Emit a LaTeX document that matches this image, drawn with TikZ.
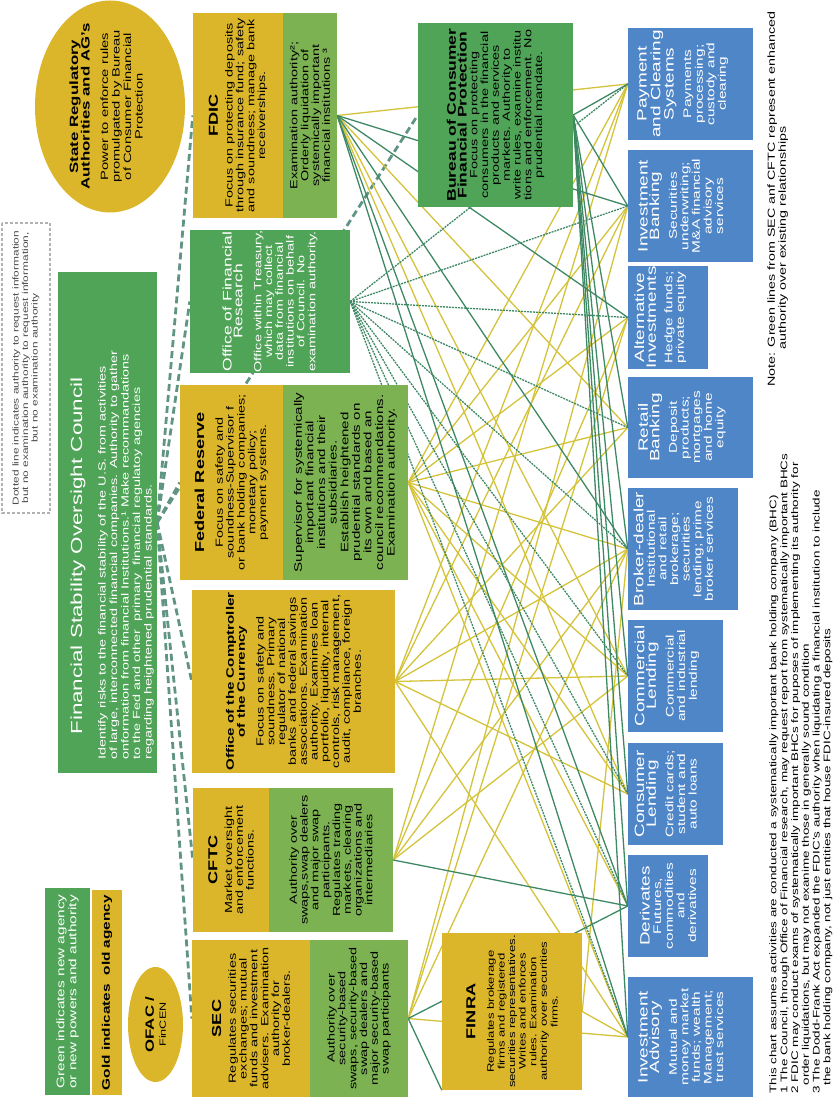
\documentclass[tikz,border=0pt]{standalone}
\usepackage{fontspec}
\setmainfont{Liberation Sans}[FakeStretch=1.4]
\usetikzlibrary{shapes,arrows,positioning,calc,backgrounds}

\definecolor{agencygold}{RGB}{219,182,43}
\definecolor{newgreen}{RGB}{124,178,82}
\definecolor{councilgreen}{RGB}{80,164,88}
\definecolor{marketblue}{RGB}{79,134,200}
\definecolor{oldline}{RGB}{212,195,58}
\definecolor{newline}{RGB}{62,136,100}
\definecolor{councilline}{RGB}{96,148,132}

\newcommand{\agencyhead}[1]{{\bfseries\fontsize{13}{14}\selectfont #1}}
\newcommand{\markethead}[1]{{\fontsize{13.5}{15}\selectfont #1}}

\tikzset{
  agency/.style={fill=agencygold, align=center, inner sep=1pt, font=\fontsize{10.3}{10.8}\selectfont},
  newpower/.style={agency, fill=newgreen},
  newagency/.style={agency, fill=councilgreen},
  market/.style={fill=marketblue, text=white, align=center, inner sep=1pt, font=\fontsize{11}{11.6}\selectfont},
  oldlink/.style={draw=oldline, line width=1.3pt},
  newlink/.style={draw=newline, line width=1.3pt},
  infolink/.style={draw=newline, line width=1.3pt, dash pattern=on 2pt off 1pt},
  councillink/.style={draw=councilline, line width=2.8pt, dash pattern=on 7pt off 4pt}
}

\begin{document}
\begin{tikzpicture}[x=1pt,y=1pt]
\useasboundingbox (0,0) rectangle (836,1101);
\begin{scope}[rotate=90, transform shape]

% Council
\node[newagency, minimum width=501pt, minimum height=99pt] (fsoc) at (578.5,-107.5) {};
\node[text=white, font=\fontsize{16}{18}\selectfont] (fsoctitle) at (545,-78) {Financial Stability Oversight Council};
\node[text=white, align=left, anchor=west, font=\fontsize{10.3}{11.5}\selectfont] (fsocbody) at (338,-126) {Identify risks to the financial stability of the U.S. from activities\\ of large, interconnected financial companies. Authority to gather\\ onformation from financial Institutions.¹ Make recommandations\\ to the Fed and other \ primary \ financial regulatoy agencies\\ regarding heightened prudential standards.};

% Dotted line note
\node[draw=gray!60, line width=2pt, dash pattern=on 3pt off 2pt, text=black!70, align=center, font=\fontsize{8.5}{9.5}\selectfont, minimum width=290pt, minimum height=48pt] (dottednote) at (733,-26) {Dotted line indicates authority to request information\\ but no examination authority to request information,\\ but no examination authority};

% State authorities
\node[fill=agencygold, ellipse, minimum width=212pt, minimum height=150pt, inner sep=0pt] (statereg) at (994.5,-110) {};
\node[align=center, font=\fontsize{10.5}{11.5}\selectfont] (statetext) at (994.5,-106) {{\bfseries\fontsize{12}{12.5}\selectfont State Regulatory}\\ {\bfseries\fontsize{12}{12.5}\selectfont Authorities and AG's}\\[7pt] Power to enforce rules\\ promulgated by Bureau\\ of Consumer Financial\\ Protection};

% Legend
\node[newagency, text=white, align=left, font=\fontsize{11}{12}\selectfont, minimum width=207pt, minimum height=45pt] (legendnew) at (109.5,-67.5) {Green indicates new agency\\ or new powers and authority};
\node[agency, font=\bfseries\fontsize{11}{12}\selectfont, minimum width=205pt, minimum height=30pt] (legendold) at (108.5,-107) {Gold indicates\ \ old agency};
\node[fill=agencygold, ellipse, minimum width=115pt, minimum height=55pt, inner sep=0pt] (ofac) at (76.5,-155.5) {};
\node[align=center] (ofactext) at (ofac.center) {{\bfseries\fontsize{12}{12}\selectfont OFAC /}\\ {\fontsize{9}{10}\selectfont FinCEN}};

% SEC
\node[agency, minimum width=157pt, minimum height=118pt] (sectop) at (82.5,-251) {\agencyhead{SEC}\\[4pt] Regulates securities\\ exchanges; mutual\\ funds and investment\\ advisers. Examination\\ authority for\\ broker-dealers.};
\node[newpower, minimum width=157pt, minimum height=98pt] (seclow) at (82.5,-359) {Authority over\\ security-based\\ swaps, security-based\\ swap dealers and\\ major security-based\\ swap participants};

% CFTC
\node[agency, minimum width=144pt, minimum height=76pt] (cftctop) at (241,-231) {\agencyhead{CFTC}\\[4pt] Market oversight\\ and enforcement\\ functions.};
\node[newpower, minimum width=144pt, minimum height=124pt] (cftclow) at (241,-331) {Authority over\\ swaps,swap dealers\\ and major swap\\ participants.\\ Regulates trading\\ markets, clearing\\ organizations and\\ intermediaries};

% OCC
\node[agency, minimum width=183pt, minimum height=203pt] (occ) at (419.5,-293.5) {{\bfseries\fontsize{10.8}{12}\selectfont Office of the Comptroller}\\ {\bfseries\fontsize{10.8}{12}\selectfont of the Currency}\\[8pt] Focus on safety and\\ soundness. Primary\\ regulator of national\\ banks and federal savings\\ associations. Examination\\ authority. Examines loan\\ portfolio, liquidity, internal\\ controls, risk management,\\ audit, compliance, foreign\\ branches.};

% Federal Reserve
\node[agency, minimum width=195pt, minimum height=103pt] (fedtop) at (618.5,-231.5) {\agencyhead{Federal Reserve}\\[8pt] Focus on safety and\\ soundness-Supervisor f\\ or bank holding companies;\\ monetary policy;\\ payment systems.};
\node[newpower, font=\fontsize{10.8}{11.6}\selectfont, minimum width=195pt, minimum height=125pt] (fedlow) at (618.5,-345.5) {Supervisor for systemically\\ important financial\\ institutions and their\\ subsidiaries.\\ Establish heightened\\ prudential standards on\\ its own and based an\\ council recommendations.\\ Examination authority.};

% Office of Financial Research
\node[newagency, text=white, minimum width=143pt, minimum height=160pt] (ofr) at (799.5,-270) {{\fontsize{12.5}{14}\selectfont Office of Financial}\\ {\fontsize{12.5}{14}\selectfont Research}\\[8pt] Office within Treasury,\\ which may collect\\ data from financial\\ institutions on behalf\\ of Council. No\\ examination authority.};

% FDIC
\node[agency, minimum width=205pt, minimum height=90pt] (fdictop) at (985.5,-238) {\agencyhead{FDIC}\\[4pt] Focus on protecting deposits\\ through insurance fund; safety\\ and soundness; manage bank\\ receiverships.};
\node[newpower, minimum width=205pt, minimum height=54pt] (fdiclow) at (985.5,-310) {Examination authority²;\\ Orderly liquidation of\\ systemically important\\ financial institutions ³};

% FINRA
\node[agency, font=\fontsize{9.4}{10.6}\selectfont, minimum width=157pt, minimum height=140pt] (finra) at (89.5,-512) {\agencyhead{FINRA}\\[8pt] Regulates brokerage\\ firms and registered\\ securities representatives.\\ Writes and enforces\\ rules. Examination\\ authority over securities\\ firms.};

% Consumer bureau
\node[newagency, minimum width=184pt, minimum height=155pt] (cfpb) at (986,-495.5) {{\bfseries\fontsize{12.5}{13.5}\selectfont Bureau of Consumer}\\ {\bfseries\fontsize{12.5}{13.5}\selectfont Financial Protection}\\ Focus on protecting\\ consumers in the financial\\ products and services\\ markets. Authority to\\ write rules, examine institu\\ tions and enforcement. No\\ prudential mandate.};

% Activities
\node[market, minimum width=120pt, minimum height=125pt] (invadv) at (64,-690.5) {\markethead{Investment}\\ \markethead{Advisory}\\[6pt] Mutual and\\ money market\\ funds; wealth\\ Management;\\ trust services\\[8pt]};
\node[market, minimum width=102pt, minimum height=80pt] (deriv) at (195,-668) {\markethead{Derivates}\\ Futures,\\ commodities\\ and\\ derivatives};
\node[market, minimum width=102pt, minimum height=95pt] (conslend) at (307,-675.5) {\markethead{Consumer}\\ \markethead{Lending}\\[6pt] Credit cards;\\ student and\\ auto loans\\[8pt]};
\node[market, minimum width=112pt, minimum height=95pt] (commlend) at (425,-675.5) {\markethead{Commercial}\\ \markethead{Lending}\\[6pt] Commercial\\ and industrial\\ lending\\[8pt]};
\node[market, minimum width=122pt, minimum height=110pt] (broker) at (552,-683) {\markethead{Broker-dealer}\\ Institutional\\ and retail\\ brokerage;\\ securities\\ lending; prime\\ broker services\\[8pt]};
\node[market, minimum width=101pt, minimum height=125pt] (retail) at (673.5,-690.5) {\markethead{Retail}\\ \markethead{Banking}\\[6pt] Deposit\\ products;\\ mortgages\\ and home\\ equity\\[8pt]};
\node[market, minimum width=99pt, minimum height=80pt] (altinv) at (783.5,-668) {\markethead{Alternative}\\ \markethead{Investments}\\[5pt] Hedge funds;\\ private equity\\[6pt]};
\node[market, minimum width=112pt, minimum height=125pt] (invbank) at (895,-690.5) {\markethead{Investment}\\ \markethead{Banking}\\[6pt] Securities\\ underwriting;\\ M\&A financial\\ advisory\\ services\\[8pt]};
\node[market, minimum width=112pt, minimum height=125pt] (payclear) at (1017,-690.5) {\markethead{Payment}\\ \markethead{and Clearing}\\ \markethead{Systems}\\[6pt] Payments\\ processing;\\ custody and\\ clearing\\[6pt]};

% Notes
\node[anchor=north west, align=left, font=\fontsize{9.6}{10.8}\selectfont] (footnotes) at (4,-766) {This chart assumes activities are conducted a systematically important bank holding company (BHC)\\ 1 The Council, through Office of Financial research, may request report from systematically important BHCs\\ 2 FDIC may conduct exams of systematically important BHCs for puposes of implementing its authority for\\ \hspace*{8pt}order liquidations, but may not exanime those in generally sound condition\\ 3 The Dodd-Frank Act expanded the FDIC's authority when liquidating a financial institution to include\\ \hspace*{8pt}the bank holding company, not just entities that house FDIC-insured deposits};
\node[anchor=north west, align=left, font=\fontsize{10.2}{11}\selectfont] (greennote) at (711,-764) {Note: Green lines from SEC anf CFTC represent enhanced\\ \hspace*{37pt}authority over existing relationships};

\begin{scope}[on background layer]
% Council links
\draw[councillink] (fsoc.south) -- (sectop.north);
\draw[councillink] (fsoc.south) -- (cftctop.north);
\draw[councillink] (fsoc.south) -- (occ.north);
\draw[councillink] (fsoc.south) -- (fedtop.north);
\draw[councillink] (fsoc.south) -- (ofr.north);
\draw[councillink] (fsoc.south) -- (fdictop.north);
\draw[councillink] (fsoc.south) -- (cfpb.north);

% Old agency links
\draw[oldlink] (seclow.south) -- (invadv.north);
\draw[oldlink] (seclow.south) -- (broker.north);
\draw[oldlink] (seclow.south) -- (altinv.north);
\draw[oldlink] (seclow.south) -- (invbank.north);
\draw[oldlink] (cftclow.south) -- (commlend.north);
\draw[oldlink] (cftclow.south) -- (broker.north);
\draw[oldlink] (cftclow.south) -- (altinv.north);
\draw[oldlink] (cftclow.south) -- (payclear.north);
\draw[oldlink] (occ.south) -- (invadv.north);
\draw[oldlink] (occ.south) -- (conslend.north);
\draw[oldlink] (occ.south) -- (commlend.north);
\draw[oldlink] (occ.south) -- (broker.north);
\draw[oldlink] (occ.south) -- (retail.north);
\draw[oldlink] (occ.south) -- (invbank.north);
\draw[oldlink] (occ.south) -- (payclear.north);
\draw[oldlink] (fedlow.south) -- (invadv.north);
\draw[oldlink] (fedlow.south) -- (deriv.north);
\draw[oldlink] (fedlow.south) -- (conslend.north);
\draw[oldlink] (fedlow.south) -- (commlend.north);
\draw[oldlink] (fedlow.south) -- (broker.north);
\draw[oldlink] (fedlow.south) -- (retail.north);
\draw[oldlink] (fedlow.south) -- (altinv.north);
\draw[oldlink] (fedlow.south) -- (invbank.north);
\draw[oldlink] (fedlow.south) -- (payclear.north);
\draw[oldlink] (fdiclow.south) -- (conslend.north);
\draw[oldlink] (fdiclow.south) -- (commlend.north);
\draw[oldlink] (fdiclow.south) -- (retail.north);
\draw[oldlink] (fdiclow.south) -- (payclear.north);
\draw[oldlink] (finra.south) -- (invadv.north);
\draw[oldlink] (finra.south) -- (broker.north);

% New powers
\draw[newlink] (seclow.south) -- (finra.north west);
\draw[newlink] (seclow.south) -- (deriv.north);
\draw[newlink] (cftclow.south) -- (deriv.north);
\draw[newlink] (fdiclow.south) -- (invadv.north);
\draw[newlink] (fdiclow.south) -- (deriv.north);
\draw[newlink] (fdiclow.south) -- (broker.north);
\draw[newlink] (fdiclow.south) -- (altinv.north);
\draw[newlink] (fdiclow.south) -- (invbank.north);
\draw[newlink] (cfpb.south) -- (invadv.north);
\draw[newlink] (cfpb.south) -- (deriv.north);
\draw[newlink] (cfpb.south) -- (conslend.north);
\draw[newlink] (cfpb.south) -- (commlend.north);
\draw[newlink] (cfpb.south) -- (broker.north);
\draw[newlink] (cfpb.south) -- (retail.north);
\draw[newlink] (cfpb.south) -- (invbank.north);
\draw[newlink] (cfpb.south) -- (payclear.north);

% Research office requests
\draw[infolink] (ofr.south) -- (invadv.north);
\draw[infolink] (ofr.south) -- (deriv.north);
\draw[infolink] (ofr.south) -- (conslend.north);
\draw[infolink] (ofr.south) -- (commlend.north);
\draw[infolink] (ofr.south) -- (broker.north);
\draw[infolink] (ofr.south) -- (retail.north);
\draw[infolink] (ofr.south) -- (altinv.north);
\draw[infolink] (ofr.south) -- (invbank.north);
\draw[infolink] (ofr.south) -- (payclear.north);
\end{scope}

\end{scope}
\end{tikzpicture}
\end{document}
